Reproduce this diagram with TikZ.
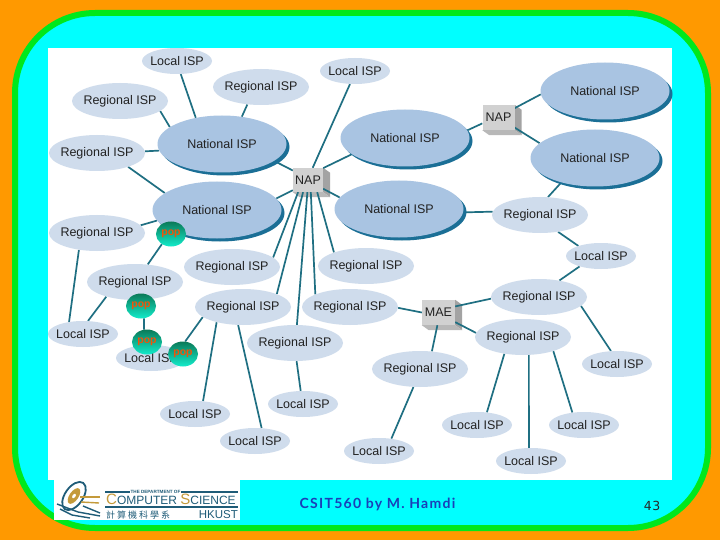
\documentclass[tikz,border=0pt]{standalone}
\usepackage{fontspec}
\setmainfont{Liberation Sans}
\newfontfamily\cjk[LetterSpace=22]{Noto Sans CJK TC}
\newfontfamily\foot[LetterSpace=9]{Lato Bold}
\newfontfamily\pagefont[LetterSpace=4]{DejaVu Sans}
\usetikzlibrary{shapes.geometric,shadows}
\definecolor{orangebg}{HTML}{FF9900}
\definecolor{greenfr}{HTML}{00E81C}
\definecolor{cyanbg}{HTML}{00FFFF}
\definecolor{linec}{HTML}{1F6F82}
\definecolor{lightisp}{HTML}{CFDCEC}
\definecolor{natisp}{HTML}{A9C4E2}
\definecolor{natshadow}{HTML}{1B6F96}
\definecolor{labelc}{HTML}{222222}
\definecolor{logob}{HTML}{1F5C78}
\definecolor{logog}{HTML}{C49A3A}
\definecolor{poptop}{HTML}{0B7A58}
\definecolor{popbot}{HTML}{12ECCB}
\definecolor{poptext}{HTML}{F0540A}
\definecolor{creditc}{HTML}{1A3FB8}
\pgfdeclarelayer{back}
\pgfdeclarelayer{edges}
\pgfsetlayers{back,edges,main}
\newcommand{\T}[1]{\makebox[0pt][c]{\raisebox{-0.8pt}{#1}}}
\tikzset{
  lbl/.style={text=labelc,font=\fontsize{12.5}{14}\selectfont,inner sep=0pt},
  regional/.style={ellipse,lbl,fill=lightisp,minimum width=96pt,minimum height=36pt},
  localisp/.style={ellipse,lbl,fill=lightisp,minimum width=70pt,minimum height=26pt},
  national/.style={ellipse,lbl,fill=natisp,minimum width=129pt,minimum height=57pt,
    general shadow={fill=natshadow,shadow xshift=3pt,shadow yshift=-3pt}},
  boxn/.style={rectangle,lbl,fill=black!18,minimum width=32pt,minimum height=25pt},
  popn/.style={ellipse,minimum width=30pt,minimum height=25pt,inner sep=0pt,top color=poptop,bottom color=popbot,
    text=poptext,font=\bfseries\fontsize{10.5}{11}\selectfont},
  conn/.style={draw=linec,line width=1.7pt},
}
\newcommand{\bevelbox}[1]{%
  \fill[black!36] (#1.north east) -- ++(7,5) -- ([shift={(7,5)}]#1.south east) -- (#1.south east) -- cycle;
  \fill[black!28] (#1.south west) -- ++(7,5) -- ([shift={(7,5)}]#1.south east) -- (#1.south east) -- cycle;
}
\begin{document}
\begin{tikzpicture}[x=1pt,y=-1pt]
\useasboundingbox (0,0) rectangle (720,540);
\begin{pgfonlayer}{back}
\fill[orangebg] (0,0) rectangle (720,540);
\draw[greenfr,fill=cyanbg,line width=6pt,rounded corners=80pt] (15,13) rectangle (708,528);
\fill[white] (48,48) rectangle (672,480);
\fill[white] (54,480) rectangle (240,520);
\end{pgfonlayer}

% ISP nodes
\node[localisp] (lt) at (177,61) {\T{Local ISP}};
\node[regional] (ra) at (120,101) {\T{Regional ISP}};
\node[regional] (rb) at (261,87) {\T{Regional ISP}};
\node[localisp] (lu) at (355,71) {\T{Local ISP}};
\node[regional] (rc) at (97,153) {\T{Regional ISP}};
\node[national] (na) at (222,144) {\T{National ISP}};
\node[national] (nb) at (405,138) {\T{National ISP}};
\node[national] (nc) at (605,91) {\T{National ISP}};
\node[national] (nd) at (595,158) {\T{National ISP}};
\node[national] (ne) at (217,210) {\T{National ISP}};
\node[national] (nf) at (399,209) {\T{National ISP}};
\node[regional] (rd) at (97,233) {\T{Regional ISP}};
\node[regional] (re) at (135,282) {\T{Regional ISP}};
\node[regional] (rh) at (232,267) {\T{Regional ISP}};
\node[regional] (rs) at (366,266) {\T{Regional ISP}};
\node[regional] (rg) at (243,307) {\T{Regional ISP}};
\node[regional] (rr) at (350,307) {\T{Regional ISP}};
\node[regional] (rq) at (295,343) {\T{Regional ISP}};
\node[regional] (rx) at (420,369) {\T{Regional ISP}};
\node[regional] (rt) at (540,215) {\T{Regional ISP}};
\node[regional] (rv) at (539,297) {\T{Regional ISP}};
\node[regional] (rw) at (523,337) {\T{Regional ISP}};
\node[localisp] (ll) at (83,334) {\T{Local ISP}};
\node[localisp] (lm) at (151,358) {\T{Local ISP}};
\node[localisp] (lo) at (195,414) {\T{Local ISP}};
\node[localisp] (lq) at (303,404) {\T{Local ISP}};
\node[localisp] (lp) at (255,441) {\T{Local ISP}};
\node[localisp] (ly) at (379,451) {\T{Local ISP}};
\node[localisp] (l1) at (477,425) {\T{Local ISP}};
\node[localisp] (l2) at (531,461) {\T{Local ISP}};
\node[localisp] (l3) at (584,425) {\T{Local ISP}};
\node[localisp] (l4) at (617,364) {\T{Local ISP}};
\node[localisp] (l5) at (601,256) {\T{Local ISP}};

% exchange points
\node[boxn] (p1) at (498.5,117.5) {\T{NAP}};
\node[boxn,minimum width=30pt,minimum height=24pt] (p2) at (308,180) {\T{NAP}};
\node[boxn,minimum width=33pt] (mae) at (438.5,312.5) {\T{MAE}};
\begin{pgfonlayer}{edges}
\bevelbox{p1}\bevelbox{p2}\bevelbox{mae}
\end{pgfonlayer}

% POPs
\node[popn] (pop1) at (171,234) {\T{\raisebox{3pt}{pop}}};
\node[popn] (pop2) at (141,306) {\T{\raisebox{3pt}{pop}}};
\node[popn] (pop3) at (147,342) {\T{\raisebox{3pt}{pop}}};
\node[popn] (pop4) at (183,354) {\T{\raisebox{3pt}{pop}}};

\begin{pgfonlayer}{edges}
\path[conn] (na.135) -- (lt.-74);
\path[conn] (na.162) -- (ra.-14);
\path[conn] (na.54) -- (rb.-128);
\path[conn] (na.186) -- (rc.2);
\path[conn] (na.-18) -- (p2.148);
\path[conn] (rc.-24) -- (ne.162);
\path[conn] (ne.190) -- (rd.10);
\path[conn] (pop1.228) -- (re.54);
\path[conn] (rd.223) -- (ll.139);
\path[conn] (re.207) -- (ll.69);
\path[conn] (pop2.-76) -- (pop3.104);
\path[conn] (rg.194) -- (pop4.80);
\path[conn] (rg.210) -- (lo.58);
\path[conn] (rg.255) -- (lp.63);
\path[conn] (p2.69) -- (lu.249);
\path[conn] (p2.38) -- (nb.197);
\path[conn] (p2.-30) -- (nf.169);
\path[conn] (p2.214) -- (ne.11);
\path[conn] (p2.231) -- (rh.13);
\path[conn] (p2.248) -- (rg.21);
\path[conn] (p2.267) -- (rq.84);
\path[conn] (p2.283) -- (rr.160);
\path[conn] (p2.307) -- (rs.157);
\path[conn] (rr.-1) -- (mae.180);
\path[conn] (mae.20) -- (rv.182);
\path[conn] (mae.-30) -- (rw.175);
\path[conn] (mae.265) -- (rx.56);
\path[conn] (rq.-85) -- (lq.100);
\path[conn] (rx.250) -- (ly.45);
\path[conn] (rw.222) -- (l1.52);
\path[conn] (rw.288) -- (l2.99);
\path[conn] (rw.-25) -- (l3.133);
\path[conn] (rv.-12) -- (l4.115);
\path[conn] (rv.39) -- (l5.206);
\path[conn] (rt.-43) -- (l5.156);
\path[conn] (rt.176) -- (nf.-3);
\path[conn] (rt.66) -- (nd.216);
\path[conn] (p1.30) -- (nc.183);
\path[conn] (p1.-32) -- (nd.165);
\path[conn] (p1.200) -- (nb.7);
\end{pgfonlayer}

% footer
\node[text=creditc,font=\foot\fontsize{14}{15}\selectfont,inner sep=0pt] (credit) at (377.5,504) {CSIT560 by M. Hamdi};
\node[text=black!85,font=\pagefont\fontsize{12.5}{14}\selectfont,inner sep=0pt] (pagenum) at (652,506) {43};

% logo
\draw[logob,line width=1.6pt] (105,492) -- (130,492) (181,492) -- (238,492);
\draw[logob,line width=1.6pt] (105,507) -- (238,507);
\node[logob,font=\bfseries\fontsize{4.6}{5}\selectfont,inner sep=0pt] (dept) at (155.5,492) {THE DEPARTMENT OF};
\node[anchor=base west,inner sep=0pt,font=\fontsize{12}{12}\selectfont] (cs) at (106,504.5)
  {\textcolor{logog}{\fontsize{15}{15}\selectfont C}\textcolor{logob}{OMPUTER} \textcolor{logog}{\fontsize{15}{15}\selectfont S}\textcolor{logob}{CIENCE}};
\node[anchor=base west,logob,inner sep=0pt,font=\cjk\fontsize{9}{10}\selectfont] (cjkname) at (106,518) {計算機科學系};
\node[anchor=base east,logob,inner sep=0pt,font=\fontsize{11.5}{12}\selectfont] (hk) at (238,518) {HKUST};
% emblem
\draw[logob,line width=1.8pt,rotate around={55:(74,496)}] (74,496) ellipse (16 and 9);
\fill[logog,rotate around={55:(74,496)}] (74,496) ellipse (9 and 4.5);
\fill[white,rotate around={55:(74,496)}] (74,496) ellipse (2.5 and 1.5);
\draw[logob,line width=1.4pt] (57,504) -- (78,512) -- (100,516);
\draw[logob,line width=1.4pt] (60,509) -- (72,515) -- (90,518);
\draw[logob,line width=1.4pt] (83,506) -- (100,513);
\draw[logog,line width=1.4pt] (80,497) -- (100,497);
\draw[logog,line width=1.4pt] (81,502) -- (99,503);
\end{tikzpicture}
\end{document}
